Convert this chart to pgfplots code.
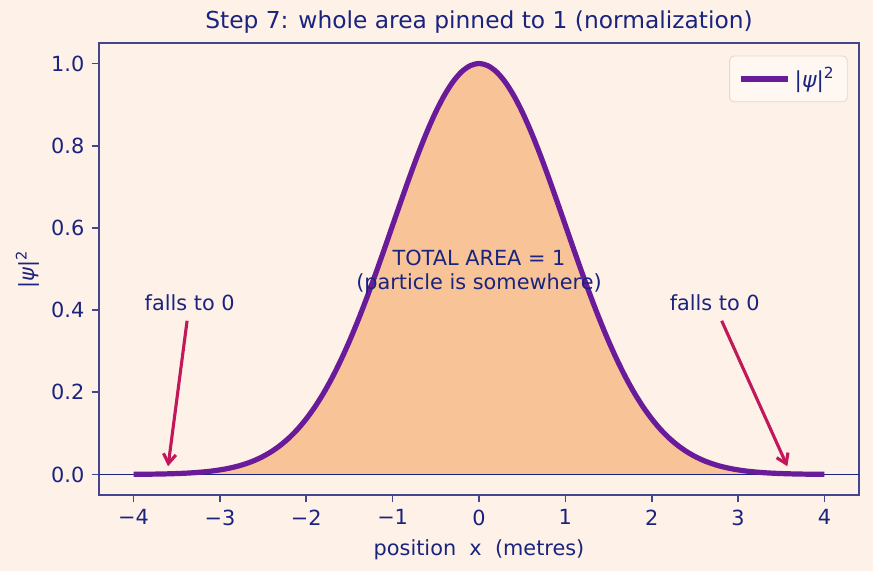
\documentclass[border=0pt]{standalone}
\usepackage{fontspec}
\setmainfont{DejaVu Sans}
\usepackage{pgfplots}
\pgfplotsset{compat=1.18}
\usepackage{pgfplotstable}
\usetikzlibrary{arrows.meta}
\definecolor{bg}{HTML}{FEF1E7}
\definecolor{areafill}{HTML}{F8C497}
\definecolor{curve}{HTML}{6A1B9A}
\definecolor{navy}{HTML}{1A237E}
\definecolor{spine}{HTML}{45458F}
\definecolor{arrowc}{HTML}{C2185B}
\definecolor{legedge}{HTML}{E3D8CE}
\definecolor{legfill}{HTML}{FFF7F1}

\pgfplotstableread{
x y
-4.0 0.00034
-3.9 0.00050
-3.8 0.00073
-3.7 0.00106
-3.6 0.00153
-3.5 0.00219
-3.4 0.00309
-3.3 0.00432
-3.2 0.00598
-3.1 0.00819
-3.0 0.01111
-2.9 0.01492
-2.8 0.01984
-2.7 0.02612
-2.6 0.03405
-2.5 0.04394
-2.4 0.05613
-2.3 0.07101
-2.2 0.08892
-2.1 0.11025
-2.0 0.13534
-1.9 0.16447
-1.8 0.19790
-1.7 0.23574
-1.6 0.27804
-1.5 0.32465
-1.4 0.37531
-1.3 0.42956
-1.2 0.48675
-1.1 0.54607
-1.0 0.60653
-0.9 0.66698
-0.8 0.72615
-0.7 0.78271
-0.6 0.83527
-0.5 0.88250
-0.4 0.92312
-0.3 0.95600
-0.2 0.98020
-0.1 0.99501
0.0 1.00000
0.1 0.99501
0.2 0.98020
0.3 0.95600
0.4 0.92312
0.5 0.88250
0.6 0.83527
0.7 0.78271
0.8 0.72615
0.9 0.66698
1.0 0.60653
1.1 0.54607
1.2 0.48675
1.3 0.42956
1.4 0.37531
1.5 0.32465
1.6 0.27804
1.7 0.23574
1.8 0.19790
1.9 0.16447
2.0 0.13534
2.1 0.11025
2.2 0.08892
2.3 0.07101
2.4 0.05613
2.5 0.04394
2.6 0.03405
2.7 0.02612
2.8 0.01984
2.9 0.01492
3.0 0.01111
3.1 0.00819
3.2 0.00598
3.3 0.00432
3.4 0.00309
3.5 0.00219
3.6 0.00153
3.7 0.00106
3.8 0.00073
3.9 0.00050
4.0 0.00034
}\psidata

\begin{document}
\begin{tikzpicture}
\fill[bg] (-47.52pt,-36.48pt) rectangle (371.52pt,237.6pt);
\useasboundingbox (-47.52pt,-36.48pt) rectangle (371.52pt,237.6pt);
\begin{axis}[
  at={(0,0)}, anchor=south west,
  scale only axis, width=364.8pt, height=216.96pt,
  xmin=-4.4, xmax=4.4, ymin=-0.05, ymax=1.05,
  axis line style={spine, line width=0.8pt},
  xtick={-4,-3,-2,-1,0,1,2,3,4},
  xticklabels={−4,−3,−2,−1,0,1,2,3,4},
  ytick={0,0.2,0.4,0.6,0.8,1.0},
  yticklabel style={/pgf/number format/.cd, fixed, fixed zerofill, precision=1},
  /pgf/number format/assume math mode=true,
  tick align=outside, xtick pos=bottom, ytick pos=left,
  major tick length=3.5pt,
  tick style={spine, line width=0.8pt},
  ticklabel style={font=\fontsize{10}{12}\selectfont, text=navy},
  title={Step 7: whole area pinned to 1 (normalization)},
  title style={font=\fontsize{11.2}{13}\selectfont, text=navy, yshift=-5pt},
  xlabel={position\ \ x\ \ (metres)},
  ylabel={|{\itshape ψ}|\textsuperscript{2}},
  ylabel style={xshift=0pt, yshift=-1pt},
  label style={font=\fontsize{10}{12}\selectfont, text=navy},
  legend style={at={(0.985,0.972)}, anchor=north east, draw=legedge, fill=legfill, rounded corners=2pt, font=\fontsize{10.5}{12}\selectfont, text=navy, inner xsep=4pt, inner ysep=3.5pt},
  legend cell align=left,
  legend image code/.code={\draw[#1] (0cm,0cm) -- (0.8cm,0cm);},
]
\addplot[fill=areafill, draw=none, forget plot] table[x=x,y=y]{\psidata} \closedcycle;
\addplot[navy, line width=0.7pt, forget plot] coordinates {(-4.4,0) (4.4,0)};
\addplot[curve, line width=2.5pt, smooth] table[x=x,y=y]{\psidata};
\addlegendentry{|{\itshape ψ}|\textsuperscript{2}}
\draw[arrowc, line width=1.5pt, -{Straight Barb[length=4.5pt,width=6pt]}] (axis cs:-3.38,0.374) -- (axis cs:-3.6,0.02);
\draw[arrowc, line width=1.5pt, -{Straight Barb[length=4.5pt,width=6pt]}] (axis cs:2.81,0.374) -- (axis cs:3.57,0.02);
\node[anchor=base, text=navy, font=\fontsize{10}{12}\selectfont] at (axis cs:-3.35,0.398) {falls to 0};
\node[anchor=base, text=navy, font=\fontsize{10}{12}\selectfont] at (axis cs:2.73,0.398) {falls to 0};
\node[align=center, text=navy, font=\fontsize{10}{11.5}\selectfont, inner sep=0pt] at (axis cs:0,0.493) {TOTAL AREA = 1\\(particle is somewhere)};
\end{axis}
\end{tikzpicture}
\end{document}
